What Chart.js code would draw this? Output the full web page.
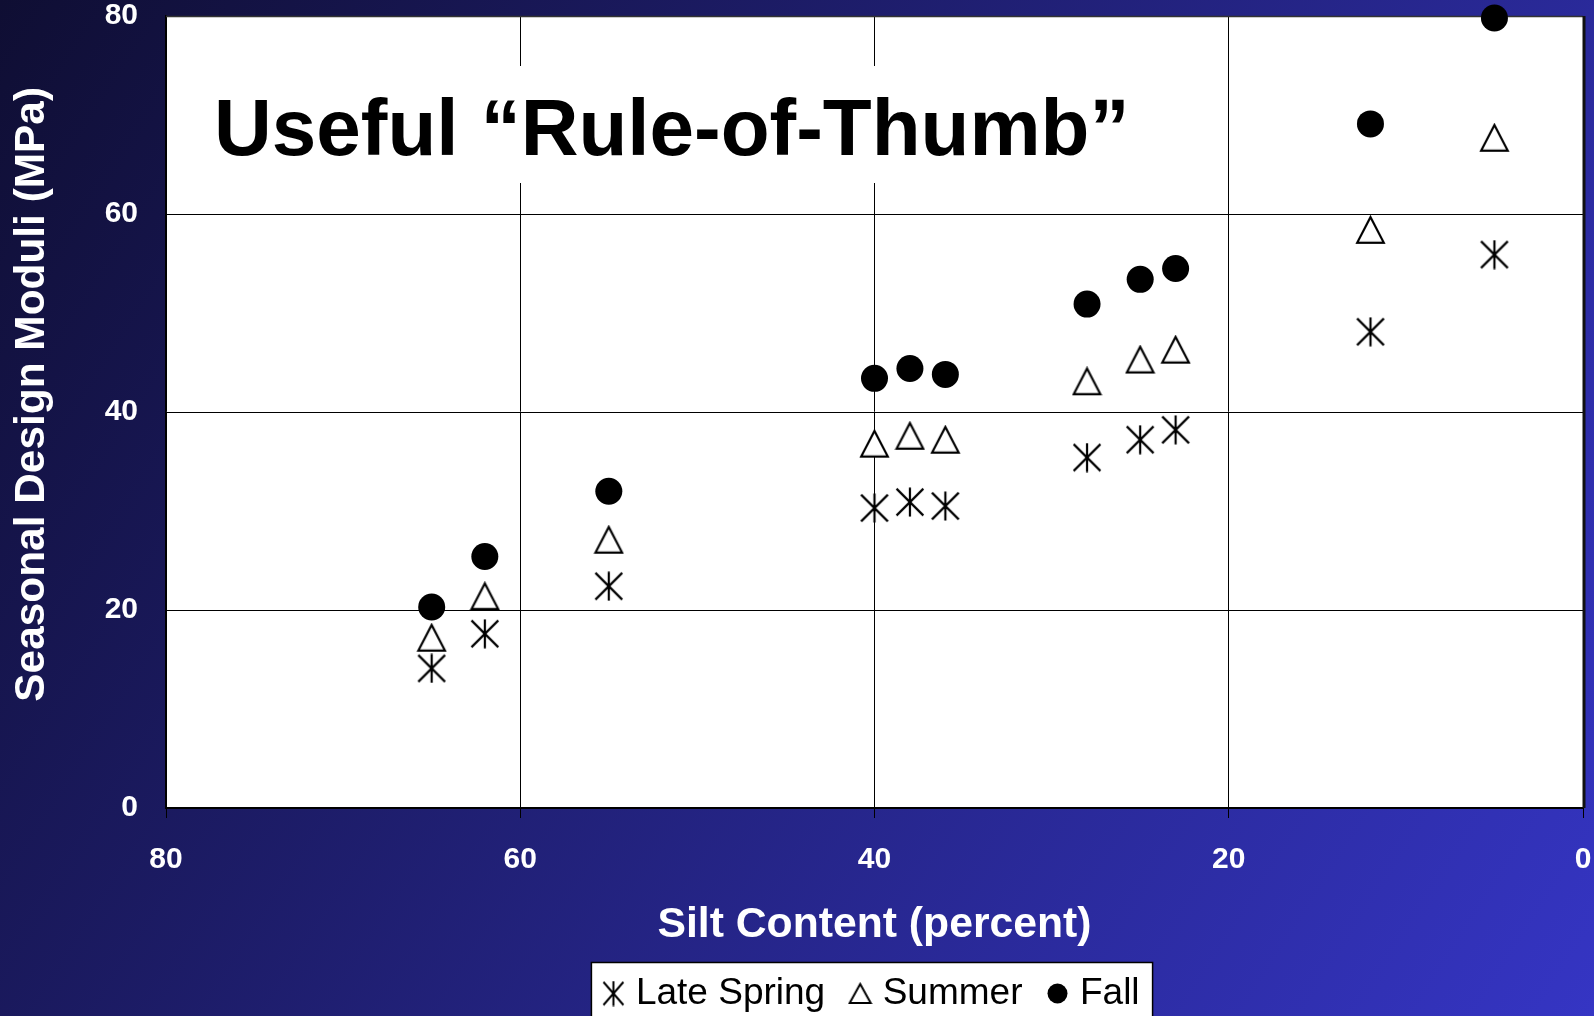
<!DOCTYPE html>
<html>
<head>
<meta charset="utf-8">
<script src="https://cdn.jsdelivr.net/npm/chart.js@4.4.1/dist/chart.umd.min.js"></script>
<style>
  html, body { margin: 0; padding: 0; overflow: hidden; background: #14123c; }
  #wrap { width: 1594px; height: 1022px; position: relative; }
</style>
</head>
<body>
<div id="wrap"><canvas id="chart"></canvas></div>
<script>
// Data
const siltContent = [65, 62, 55, 40, 38, 36, 28, 25, 23, 12, 5];
const lateSpring = [14.1, 17.6, 22.4, 30.3, 30.9, 30.5, 35.4, 37.2, 38.2, 48.1, 55.9];
const summer = [17.2, 21.4, 27.1, 36.8, 37.6, 37.2, 43.1, 45.3, 46.3, 58.4, 67.7];
const fall = [20.3, 25.4, 32.0, 43.4, 44.4, 43.8, 50.9, 53.4, 54.5, 69.1, 79.8];
const seriesNames = ['Late Spring', 'Summer', 'Fall'];
const titleText = 'Useful \u201CRule-of-Thumb\u201D';

const FONT = '"Liberation Sans", Arial, Helvetica, sans-serif';

// Marker canvases
function makeAsterisk(w, h, lw) {
  const c = document.createElement('canvas');
  c.width = w; c.height = h;
  const g = c.getContext('2d');
  g.strokeStyle = '#000';
  g.lineWidth = lw;
  const e = lw / 2 + 0.5;
  g.beginPath();
  g.moveTo(w / 2, 0.5); g.lineTo(w / 2, h - 0.5);
  g.moveTo(e, e); g.lineTo(w - e, h - e);
  g.moveTo(w - e, e); g.lineTo(e, h - e);
  g.stroke();
  return c;
}

function makeTriangle(w, h, lw) {
  const c = document.createElement('canvas');
  c.width = w; c.height = h;
  const g = c.getContext('2d');
  g.fillStyle = '#fff';
  g.strokeStyle = '#000';
  g.lineWidth = lw;
  g.beginPath();
  g.moveTo(w / 2, lw);
  g.lineTo(w - lw, h - lw);
  g.lineTo(lw, h - lw);
  g.closePath();
  g.fill();
  g.stroke();
  return c;
}

function makeDot(d) {
  const c = document.createElement('canvas');
  c.width = d; c.height = d;
  const g = c.getContext('2d');
  g.fillStyle = '#000';
  g.beginPath();
  g.arc(d / 2, d / 2, d / 2 - 0.5, 0, Math.PI * 2);
  g.fill();
  return c;
}

const asteriskMark = makeAsterisk(30, 30, 2.2);
const triangleMark = makeTriangle(31, 30, 2.2);
const legendMarks = [makeAsterisk(23, 26, 2), makeTriangle(25, 23, 2), makeDot(21)];

function toPoints(values) {
  return values.map((v, i) => ({ x: siltContent[i], y: v }));
}

// Slide background, white plot area, frame, title box and legend box
const slidePlugin = {
  id: 'slide',
  beforeDraw(chart) {
    const { ctx, width, height, chartArea: a } = chart;
    ctx.save();
    const grad = ctx.createLinearGradient(0, 0, width, height);
    grad.addColorStop(0, '#0f0e33');
    grad.addColorStop(1, '#3535c4');
    ctx.fillStyle = grad;
    ctx.fillRect(0, 0, width, height);
    ctx.fillStyle = '#fff';
    ctx.fillRect(a.left, a.top, a.right - a.left, a.bottom - a.top);

    // legend box
    const lg = chart.legend;
    const pad = lg.options.labels.padding;
    const lw = lg.lineWidths[0];
    const x0 = (lg.left + pad + lg.right - lw) / 2;
    const x1 = x0 + lw - pad;
    const yMid = lg.top + pad + lg.options.labels.font.size / 2;
    ctx.fillStyle = '#fff';
    ctx.strokeStyle = '#000';
    ctx.lineWidth = 1.5;
    ctx.fillRect(x0 - 18, yMid - 31, x1 - x0 + 31, 80);
    ctx.strokeRect(x0 - 18, yMid - 31, x1 - x0 + 31, 80);
    ctx.restore();
  },
  beforeDatasetsDraw(chart) {
    const { ctx, chartArea: a } = chart;
    ctx.save();
    // title sits on its own white box, hiding the grid behind it
    ctx.font = 'bold 80px ' + FONT;
    const tw = ctx.measureText(titleText).width;
    const tx = a.left + 48;
    ctx.fillStyle = '#fff';
    ctx.fillRect(tx - 20, a.top + 50, tw + 40, 117);
    ctx.fillStyle = '#000';
    ctx.textBaseline = 'alphabetic';
    ctx.fillText(titleText, tx, a.top + 139);

    // frame: thin top, heavier right edge
    ctx.strokeStyle = '#333';
    ctx.lineWidth = 1.5;
    ctx.beginPath();
    ctx.moveTo(a.left, a.top + 0.5);
    ctx.lineTo(a.right, a.top + 0.5);
    ctx.stroke();
    ctx.strokeStyle = '#111';
    ctx.lineWidth = 3;
    ctx.beginPath();
    ctx.moveTo(a.right + 1, a.top);
    ctx.lineTo(a.right + 1, a.bottom);
    ctx.stroke();
    ctx.restore();
  }
};

new Chart(document.getElementById('chart'), {
  type: 'scatter',
  data: {
    datasets: [
      {
        label: seriesNames[0],
        data: toPoints(lateSpring),
        pointStyle: asteriskMark,
        pointRadius: 15,
        clip: false
      },
      {
        label: seriesNames[1],
        data: toPoints(summer),
        pointStyle: triangleMark,
        pointRadius: 15,
        clip: false
      },
      {
        label: seriesNames[2],
        data: toPoints(fall),
        pointStyle: 'circle',
        pointRadius: 13.5,
        backgroundColor: '#000',
        borderColor: '#000',
        borderWidth: 0,
        clip: false
      }
    ]
  },
  options: {
    responsive: true,
    maintainAspectRatio: false,
    animation: false,
    layout: { autoPadding: false, padding: { top: 16, right: 11, left: 0, bottom: 0 } },
    scales: {
      x: {
        type: 'linear',
        reverse: true,
        min: 0,
        max: 80,
        ticks: {
          stepSize: 20,
          color: '#fff',
          padding: 0,
          // tall line box pushes the labels down without inflating the side padding
          font: { family: FONT, size: 30, weight: 'bold', lineHeight: 2.8 }
        },
        grid: { color: '#000', lineWidth: 1, tickLength: 10, tickColor: '#000' },
        border: { display: true, color: '#000', width: 2 },
        title: {
          display: true,
          text: 'Silt Content (percent)',
          color: '#fff',
          padding: { top: 0, bottom: 0 },
          font: { family: FONT, size: 42.7, weight: 'bold', lineHeight: 0.89 }
        },
        afterFit: s => { s.height = 136; }
      },
      y: {
        type: 'linear',
        min: 0,
        max: 80,
        ticks: {
          stepSize: 20,
          color: '#fff',
          padding: 0,
          font: { family: FONT, size: 30, weight: 'bold', lineHeight: 1 }
        },
        grid: { color: '#000', lineWidth: 1, drawTicks: true, tickLength: 28, tickColor: 'rgba(0,0,0,0)' },
        border: { display: true, color: '#000', width: 1.5 },
        title: {
          display: true,
          text: '   Seasonal Design Moduli (MPa)',
          color: '#fff',
          padding: { top: 11, bottom: 0 },
          font: { family: FONT, size: 42.4, weight: 'bold', lineHeight: 1 }
        },
        afterFit: s => { s.width = 166; }
      }
    },
    plugins: {
      tooltip: { enabled: false },
      legend: {
        position: 'bottom',
        fullSize: false,
        labels: {
          usePointStyle: true,
          boxWidth: 8,
          padding: 31,
          color: '#000',
          font: { family: FONT, size: 37 },
          generateLabels: chart => chart.data.datasets.map((ds, i) => ({
            text: ds.label,
            pointStyle: legendMarks[i],
            fillStyle: '#000',
            strokeStyle: '#000',
            lineWidth: 0,
            hidden: false,
            datasetIndex: i,
            fontColor: '#000'
          }))
        }
      }
    }
  },
  plugins: [slidePlugin]
});
</script>
</body>
</html>
